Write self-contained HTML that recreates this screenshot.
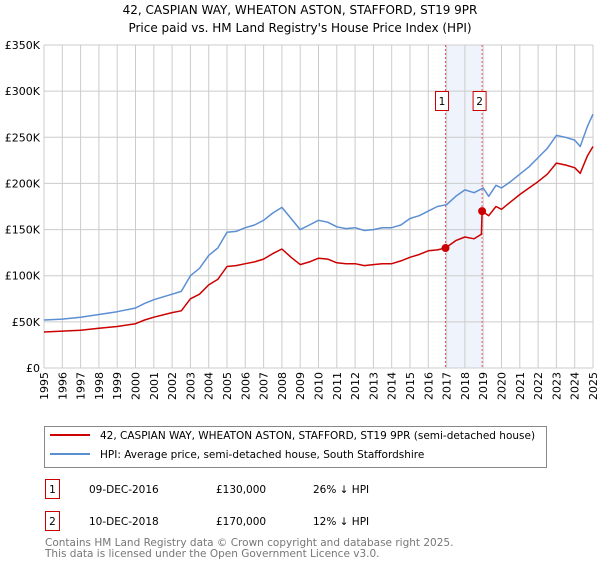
<!DOCTYPE html>
<html><head><meta charset="utf-8"><style>
body{margin:0;background:#fff;font-family:"Liberation Sans","DejaVu Sans",sans-serif}
svg text{font-family:"DejaVu Sans","Liberation Sans",sans-serif}
</style></head><body>
<svg width="600" height="560" viewBox="0 0 600 560" xmlns="http://www.w3.org/2000/svg">
<text x="300" y="14" text-anchor="middle" font-size="12" fill="#000">42, CASPIAN WAY, WHEATON ASTON, STAFFORD, ST19 9PR</text>
<text x="300" y="32" text-anchor="middle" font-size="12" fill="#000">Price paid vs. HM Land Registry's House Price Index (HPI)</text>
<g id="plot"></g>
<g>
<rect x="44.5" y="426.5" width="502" height="41" fill="#fff" stroke="#888"/>
<line x1="50" y1="435" x2="90" y2="435" stroke="#cc0000" stroke-width="2"/>
<text x="100" y="439" font-size="10.5">42, CASPIAN WAY, WHEATON ASTON, STAFFORD, ST19 9PR (semi-detached house)</text>
<line x1="50" y1="454" x2="90" y2="454" stroke="#5b8fd4" stroke-width="2"/>
<text x="100" y="458" font-size="10.5">HPI: Average price, semi-detached house, South Staffordshire</text>
</g>
<g font-size="10.5">
<rect x="45.5" y="479.5" width="14" height="19" fill="#fff" stroke="#cc0000"/>
<text x="52.5" y="493" text-anchor="middle">1</text>
<text x="89" y="493">09-DEC-2016</text><text x="216" y="493">£130,000</text><text x="313" y="493">26% ↓ HPI</text>
<rect x="45.5" y="511.5" width="14" height="19" fill="#fff" stroke="#cc0000"/>
<text x="52.5" y="525" text-anchor="middle">2</text>
<text x="89" y="525">10-DEC-2018</text><text x="216" y="525">£170,000</text><text x="313" y="525">12% ↓ HPI</text>
</g>
<text x="45" y="546" font-size="10.5" fill="#777">Contains HM Land Registry data © Crown copyright and database right 2025.</text>
<text x="45" y="557" font-size="10.5" fill="#777">This data is licensed under the Open Government Licence v3.0.</text>
</svg>
<script>
const hpiX=[1995,1996,1997,1998,1999,2000,2000.5,2001,2002,2002.5,2003,2003.5,2004,2004.5,2005,2005.5,2006,2006.5,2007,2007.5,2008,2008.5,2009,2009.5,2010,2010.5,2011,2011.5,2012,2012.5,2013,2013.5,2014,2014.5,2015,2015.5,2016,2016.5,2017,2017.5,2018,2018.5,2019,2019.3,2019.7,2020,2020.5,2021,2021.5,2022,2022.5,2023,2023.5,2024,2024.3,2024.7,2025];
const hpiY=[52,53,55,58,61,65,70,74,80,83,100,108,122,130,147,148,152,155,160,168,174,162,150,155,160,158,153,151,152,149,150,152,152,155,162,165,170,175,177,186,193,190,195,186,198,195,202,210,218,228,238,252,250,247,240,262,275];
const propX=[1995,1996,1997,1998,1999,2000,2000.5,2001,2002,2002.5,2003,2003.5,2004,2004.5,2005,2005.5,2006,2006.5,2007,2007.5,2008,2008.5,2009,2009.5,2010,2010.5,2011,2011.5,2012,2012.5,2013,2013.5,2014,2014.5,2015,2015.5,2016,2016.5,2016.94,2017.5,2018,2018.5,2018.9,2018.94,2019.3,2019.7,2020,2020.5,2021,2021.5,2022,2022.5,2023,2023.5,2024,2024.3,2024.7,2025];
const propY=[39,40,41,43,45,48,52,55,60,62,75,80,90,96,110,111,113,115,118,124,129,120,112,115,119,118,114,113,113,111,112,113,113,116,120,123,127,128,130,138,142,140,145,170,165,175,172,180,188,195,202,210,222,220,217,211,230,240];
const saleX=[2016.94,2018.94];
const saleY=[130,170];
const saleLabels=["1","2"];
const yTicks=[0,50,100,150,200,250,300,350];
const yTickLabels=["£0","£50K","£100K","£150K","£200K","£250K","£300K","£350K"];
const xTicks=[];for(let y=1995;y<=2025;y++)xTicks.push(y);

const NS="http://www.w3.org/2000/svg";
const X0=44,X1=593,Y0=368,Y1=45;
const xs=v=>X0+(v-1995)/30*(X1-X0);
const ys=v=>Y0-v/350*(Y0-Y1);
const g=document.getElementById('plot');
function mk(t,a){const e=document.createElementNS(NS,t);for(const k in a)e.setAttribute(k,a[k]);g.appendChild(e);return e;}
const band=mk('rect',{x:xs(saleX[0]),y:Y1,width:xs(saleX[1])-xs(saleX[0]),height:Y0-Y1,fill:'#eef3fc'});


xTicks.forEach(t=>{const l=mk('line',{x1:xs(t),x2:xs(t),y1:Y1,y2:Y0,stroke:'#ccc','stroke-width':1});


const tx=mk('text',{x:0,y:0,'font-size':11,'text-anchor':'end',transform:`translate(${xs(t)+4},${Y0+4}) rotate(-90)`});tx.textContent=t;

});
yTicks.forEach((t,i)=>{const l=mk('line',{x1:X0,x2:X1,y1:ys(t),y2:ys(t),stroke:'#ccc','stroke-width':1});


const tx=mk('text',{x:X0-4,y:ys(t)+4,'font-size':11,'text-anchor':'end'});tx.textContent=yTickLabels[i];

});
const ax=mk('line',{x1:X0,x2:X0,y1:Y1,y2:Y0,stroke:'#ccc'});


saleX.forEach((s,i)=>{const l=mk('line',{x1:xs(s),x2:xs(s),y1:Y1,y2:Y0,stroke:'#e55','stroke-width':1,'stroke-dasharray':'2,2'});


const r=mk('rect',{x:xs(s)-19+i*0,y:91.5,width:13,height:19,fill:'#fff',stroke:'#cc0000'});
r.setAttribute('x',i==0?xs(s)-10:xs(s)-9);


const tx=mk('text',{x:(i==0?xs(s)-3.5:xs(s)-2.5),y:105,'font-size':10.5,'text-anchor':'middle'});tx.textContent=saleLabels[i];

});
function path(xa,ya,c,n){const d=xa.map((x,i)=>(i?'L':'M')+xs(x).toFixed(1)+','+ys(ya[i]).toFixed(1)).join('');
const p=mk('path',{d:d,fill:'none',stroke:c,'stroke-width':1.5,'stroke-linejoin':'round'});

}
path(hpiX,hpiY,'#5b8fd4','hpi-line');
path(propX,propY,'#cc0000','property-line');
saleX.forEach((s,i)=>{const c=mk('circle',{cx:xs(s),cy:ys(saleY[i]),r:4,fill:'#cc0000'});

});
</script>
</body></html>
